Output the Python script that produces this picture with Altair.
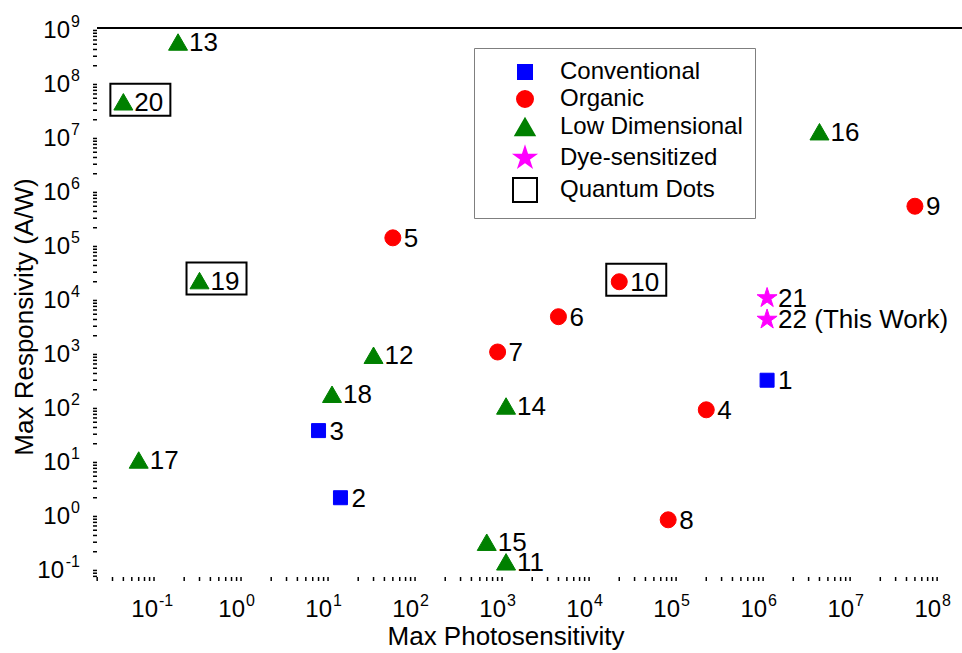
import altair as alt
import pandas as pd

# ---- data: reported photodetector figures of merit ----
ref_ids = [str(i) for i in range(1, 23)]
point_labels = ref_ids[:21] + ["22 (This Work)"]
categories = [
    "Conventional", "Conventional", "Conventional",
    "Organic", "Organic", "Organic", "Organic", "Organic", "Organic", "Organic",
    "Low Dimensional", "Low Dimensional", "Low Dimensional", "Low Dimensional",
    "Low Dimensional", "Low Dimensional", "Low Dimensional", "Low Dimensional",
    "Low Dimensional", "Low Dimensional",
    "Dye-sensitized", "Dye-sensitized",
]
max_photosensitivity = [
    1e6, 12.5, 7,
    2e5, 50, 4000, 800, 7.3e4, 5e7, 2e4,
    1000, 30, 0.17, 1000, 600, 4e6, 0.06, 10, 0.3, 0.04,
    1e6, 1e6,
]
max_responsivity = [
    300, 2, 35,
    85, 1.3e5, 4500, 1000, 0.78, 5e5, 2e4,
    0.13, 870, 5.5e8, 100, 0.3, 1.2e7, 10, 165, 2.1e4, 4.3e7,
    1e4, 4000,
]
quantum_dots = [
    False, False, False,
    False, False, False, False, False, False, True,
    False, False, False, False, False, False, False, False, True, True,
    False, False,
]

# ---- legend categories and their marker styles ----
STAR = ("M0,-1L0.225,-0.309L0.951,-0.309L0.363,0.118L0.588,0.809L0,0.382"
        "L-0.588,0.809L-0.363,0.118L-0.951,-0.309L-0.225,-0.309Z")
BOX = "M-1,-0.533L1,-0.533L1,0.533L-1,0.533Z"

legend_order = ["Conventional", "Organic", "Low Dimensional", "Dye-sensitized", "Quantum Dots"]
legend_fill = ["#0000ff", "#ff0000", "#008000", "#ff00ff", "transparent"]
legend_stroke = ["#0000ff", "#ff0000", "#008000", "#ff00ff", "#000000"]
legend_shape = ["square", "circle", "triangle-up", STAR, "square"]
legend_size = [196, 256, 361, 441, 576]

# ---- axis ticks and titles ----
x_exponents = list(range(-1, 9))
y_exponents = list(range(-1, 10))
x_title = "Max Photosensitivity"
y_title = "Max Responsivity (A/W)"

FONT = "Liberation Sans"
W, H = 865, 549
X_LO, X_HI = 10 ** -1.701, 10 ** 8.24
Y_LO, Y_HI = 10 ** -1.167, 10 ** 9

df = pd.DataFrame({
    "ref": ref_ids,
    "label": point_labels,
    "category": categories,
    "photosensitivity": max_photosensitivity,
    "responsivity": max_responsivity,
    "qd": quantum_dots,
})

x_major = [10.0 ** e for e in x_exponents]
y_major = [10.0 ** e for e in y_exponents]
x_minor = [m * 10.0 ** e for e in range(-2, 9) for m in range(2, 10)
           if X_LO <= m * 10.0 ** e <= X_HI]
y_minor = [m * 10.0 ** e for e in range(-2, 9) for m in range(2, 10)
           if Y_LO <= m * 10.0 ** e <= Y_HI]

xlab = pd.DataFrame({"v": x_major, "t": [str(e) for e in x_exponents],
                     "e": x_exponents})
ylab = pd.DataFrame({"v": y_major, "t": [str(e) for e in y_exponents],
                     "e": y_exponents})

x_scale = alt.Scale(type="log", domain=[X_LO, X_HI], nice=False)
y_scale = alt.Scale(type="log", domain=[Y_LO, Y_HI], nice=False)

x_axis = alt.Axis(
    values=x_major, labels=False, grid=False, title=None,
    tickSize=8, tickWidth=1.5, tickColor="black",
    domainColor="black", domainWidth=2,
)
y_axis = alt.Axis(
    values=y_major, labels=False, grid=False, title=None,
    tickSize=8, tickWidth=1.5, tickColor="black",
    domainColor="black", domainWidth=2,
)

legend = alt.Legend(
    orient="none", legendX=377, legendY=20, title=None,
    padding=12, symbolOffset=26, labelOffset=22, rowPadding=3,
    labelFontSize=24, labelColor="black", labelFont=FONT, labelLimit=400,
    labelExpr="datum.label + ' '",
    strokeColor="#7f7f7f", fillColor="white", symbolStrokeWidth=2,
)

base = alt.Chart(df)

points = base.mark_point(opacity=1, strokeWidth=1).encode(
    x=alt.X("photosensitivity:Q", scale=x_scale, axis=x_axis),
    y=alt.Y("responsivity:Q", scale=y_scale, axis=y_axis),
    fill=alt.Fill("category:N", scale=alt.Scale(domain=legend_order, range=legend_fill), legend=legend),
    stroke=alt.Stroke("category:N", scale=alt.Scale(domain=legend_order, range=legend_stroke), legend=legend),
    shape=alt.Shape("category:N", scale=alt.Scale(domain=legend_order, range=legend_shape), legend=legend),
    size=alt.Size("category:N", scale=alt.Scale(type="ordinal", domain=legend_order, range=legend_size), legend=legend),
)

# frames around the quantum-dot devices
qd_boxes = base.transform_filter("datum.qd").mark_point(
    shape=BOX, size=3600, filled=False, stroke="black", strokeWidth=2,
    opacity=1, xOffset=17, yOffset=-2,
).encode(
    x=alt.X("photosensitivity:Q", scale=x_scale, axis=None),
    y=alt.Y("responsivity:Q", scale=y_scale, axis=None),
)

labels = base.mark_text(
    align="left", baseline="middle", dx=11, dy=1, fontSize=26, color="black",
).encode(
    x=alt.X("photosensitivity:Q", scale=x_scale, axis=None),
    y=alt.Y("responsivity:Q", scale=y_scale, axis=None),
    text="label:N",
)

# minor ticks
x_minor_ticks = alt.Chart(pd.DataFrame({"m": x_minor})).mark_rule(
    color="black", strokeWidth=1.5
).encode(
    x=alt.X("m:Q", scale=x_scale, axis=None),
    y=alt.value(H), y2=alt.value(H + 4),
)
y_minor_ticks = alt.Chart(pd.DataFrame({"m": y_minor})).mark_rule(
    color="black", strokeWidth=1.5
).encode(
    y=alt.Y("m:Q", scale=y_scale, axis=None),
    x=alt.value(0), x2=alt.value(-4),
)

# power-of-ten tick labels: "10" plus a raised exponent
x_base_text = alt.Chart(xlab).mark_text(
    align="right", baseline="alphabetic", fontSize=24, color="black"
).encode(
    x=alt.X("v:Q", scale=x_scale, axis=None),
    y=alt.value(H + 40),
    text=alt.value("10"),
)
x_exp_text = alt.Chart(xlab).mark_text(
    align="left", baseline="alphabetic", fontSize=16, dx=1, color="black"
).encode(
    x=alt.X("v:Q", scale=x_scale, axis=None),
    y=alt.value(H + 29),
    text="t:N",
)

y_base_pos = alt.Chart(ylab).transform_filter("datum.e >= 0").mark_text(
    align="right", baseline="alphabetic", fontSize=24, dy=10, color="black"
).encode(
    y=alt.Y("v:Q", scale=y_scale, axis=None),
    x=alt.value(-27),
    text=alt.value("10"),
)
y_base_neg = alt.Chart(ylab).transform_filter("datum.e < 0").mark_text(
    align="right", baseline="alphabetic", fontSize=24, dy=10, color="black"
).encode(
    y=alt.Y("v:Q", scale=y_scale, axis=None),
    x=alt.value(-33),
    text=alt.value("10"),
)
y_exp_text = alt.Chart(ylab).mark_text(
    align="right", baseline="alphabetic", fontSize=16, dy=-1, color="black"
).encode(
    y=alt.Y("v:Q", scale=y_scale, axis=None),
    x=alt.value(-17),
    text="t:N",
)

# axis titles
title_df = pd.DataFrame({"k": [0]})
x_title_text = alt.Chart(title_df).mark_text(
    align="center", baseline="alphabetic", fontSize=26, color="black", text=x_title
).encode(x=alt.value(409), y=alt.value(H + 68))
y_title_text = alt.Chart(title_df).mark_text(
    align="center", baseline="alphabetic", fontSize=26, color="black",
    angle=270, text=y_title
).encode(x=alt.value(-64), y=alt.value(289))

top_border = alt.Chart(title_df).mark_rule(
    color="black", strokeWidth=2
).encode(x=alt.value(0), x2=alt.value(W), y=alt.value(0))

chart = alt.layer(
    x_minor_ticks, y_minor_ticks, top_border,
    points, qd_boxes, labels,
    x_base_text, x_exp_text, y_base_pos, y_base_neg, y_exp_text,
    x_title_text, y_title_text,
).properties(
    width=W, height=H,
    autosize=alt.AutoSizeParams(type="none"),
    padding={"left": 97, "top": 28, "right": 0, "bottom": 76},
).configure(
    font=FONT,
).configure_view(
    stroke=None,
)

chart.save("out.html", embed_options={"renderer": "svg", "actions": False})
